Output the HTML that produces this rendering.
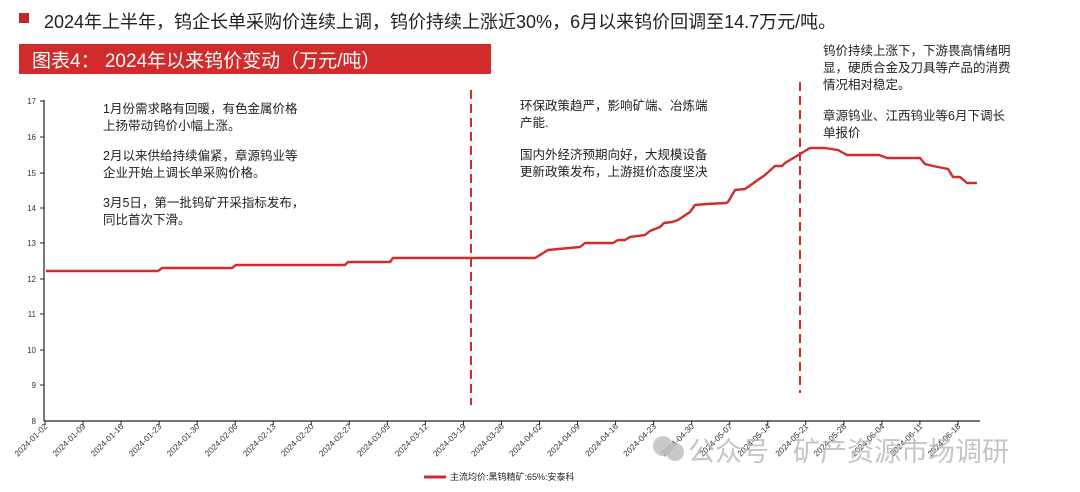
<!DOCTYPE html>
<html><head><meta charset="utf-8"><style>
body{margin:0;width:1080px;height:492px;background:#fff;overflow:hidden;font-family:"Liberation Sans","Noto Sans CJK SC",sans-serif;}
</style></head><body>
<svg width="1080" height="492" xmlns="http://www.w3.org/2000/svg" style="position:absolute;left:0;top:0;font-family:'Liberation Sans','Noto Sans CJK SC',sans-serif">
<rect x="19" y="13" width="10" height="10" fill="#c0282d"/>
<text x="44" y="28" font-size="18" fill="#222">2024年上半年，钨企长单采购价连续上调，钨价持续上涨近30%，6月以来钨价回调至14.7万元/吨。</text>
<rect x="19" y="44" width="472" height="30" fill="#d12b2b"/>
<text x="32" y="67" font-size="19" fill="#fff">图表4：  2024年以来钨价变动（万元/吨）</text>
<line x1="44" y1="100" x2="44" y2="421" stroke="#222" stroke-width="1.2"/>
<line x1="44" y1="421" x2="980" y2="421" stroke="#222" stroke-width="1.2"/>
<g font-size="8" fill="#333" text-anchor="end">
<text x="36" y="104">17</text><text x="36" y="140">16</text><text x="36" y="176">15</text><text x="36" y="211">14</text>
<text x="36" y="246">13</text><text x="36" y="282">12</text><text x="36" y="317">11</text><text x="36" y="353">10</text>
<text x="36" y="388">9</text><text x="36" y="424">8</text>
</g>
<g stroke="#222" stroke-width="1">
<line x1="40" y1="101" x2="44" y2="101"/><line x1="40" y1="137" x2="44" y2="137"/><line x1="40" y1="173" x2="44" y2="173"/><line x1="40" y1="208" x2="44" y2="208"/><line x1="40" y1="243" x2="44" y2="243"/><line x1="40" y1="279" x2="44" y2="279"/><line x1="40" y1="314" x2="44" y2="314"/><line x1="40" y1="350" x2="44" y2="350"/><line x1="40" y1="385" x2="44" y2="385"/>
</g>
<g id="xt" font-size="8.3" fill="#333" text-anchor="end"></g>
<line x1="471" y1="90" x2="471" y2="405" stroke="#d12b2b" stroke-width="2" stroke-dasharray="9,5"/>
<line x1="800" y1="82" x2="800" y2="393" stroke="#d12b2b" stroke-width="2" stroke-dasharray="9,5"/>
<polyline fill="none" stroke="#d12b2b" stroke-width="2.4" stroke-linejoin="round" points="46,271 158,271 162,268 232,268 236,265 345,265 348,262 390,262 393,258 535,258 548,250 580,247 585,243 613,243 618,240 625,240 630,237 645,235 650,231 660,227 664,223 672,222 678,220 690,212 695,205 707,204 726,203 728,202 735,190 745,189 765,175 775,166 782,166 785,163 800,154 810,148 825,148 838,150 847,155 879,155 887,158 920,158 925,164 933,166 948,169 953,177 960,177 967,183 977,183"/>
<g font-size="12.5" fill="#222">
<text x="103" y="113">1月份需求略有回暖，有色金属价格</text>
<text x="103" y="130">上扬带动钨价小幅上涨。</text>
<text x="103" y="160">2月以来供给持续偏紧，章源钨业等</text>
<text x="103" y="177">企业开始上调长单采购价格。</text>
<text x="103" y="207">3月5日，第一批钨矿开采指标发布，</text>
<text x="103" y="224">同比首次下滑。</text>
<text x="520" y="110">环保政策趋严，影响矿端、冶炼端</text>
<text x="520" y="127">产能.</text>
<text x="520" y="159">国内外经济预期向好，大规模设备</text>
<text x="520" y="176">更新政策发布，上游挺价态度坚决</text>
<text x="823" y="55">钨价持续上涨下，下游畏高情绪明</text>
<text x="823" y="72">显，硬质合金及刀具等产品的消费</text>
<text x="823" y="89">情况相对稳定。</text>
<text x="823" y="120">章源钨业、江西钨业等6月下调长</text>
<text x="823" y="137">单报价</text>
</g>
<circle cx="663" cy="446" r="10" fill="#bbb" opacity="0.8"/>
<circle cx="675" cy="452" r="9" fill="#bbb" opacity="0.8"/>
<text x="688" y="461" font-size="27" fill="#bbb" opacity="0.85">公众号 · 矿产资源市场调研</text>
<line x1="424" y1="477" x2="446" y2="477" stroke="#d12b2b" stroke-width="3"/>
<text x="450" y="480" font-size="9" fill="#222">主流均价:黑钨精矿:65%:安泰科</text>
</svg>
<script>
var d=["01-02","01-09","01-16","01-23","01-30","02-06","02-13","02-20","02-27","03-05","03-12","03-19","03-26","04-02","04-09","04-16","04-23","04-30","05-07","05-14","05-21","05-28","06-04","06-11","06-18"];
var g=document.getElementById("xt"),s="";
for(var i=0;i<d.length;i++){var x=45+38.04*i;
s+='<line x1="'+x+'" y1="421" x2="'+x+'" y2="425" stroke="#222"/>';
s+='<text transform="translate('+(x+3)+',427) rotate(-45)">2024-'+d[i]+'</text>';}
g.innerHTML=s;
</script>
</body></html>
